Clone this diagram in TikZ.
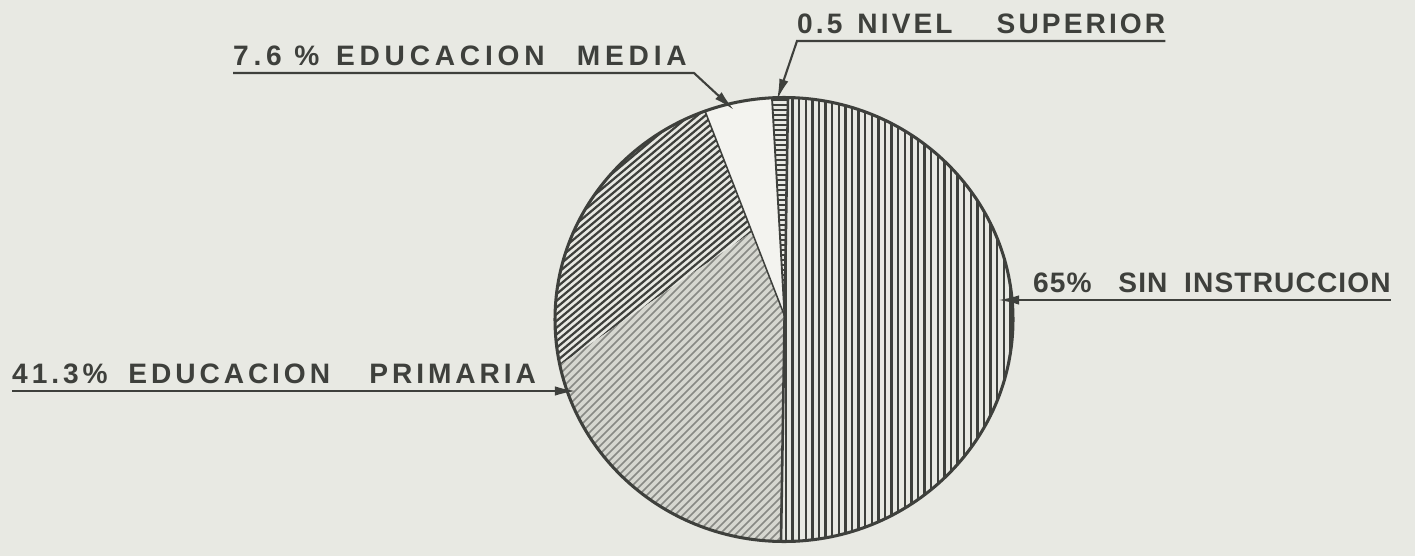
\documentclass[tikz,border=0pt]{standalone}
\usepackage{fontspec}
\usetikzlibrary{arrows.meta}

\newfontfamily\lblfont{Liberation Sans Bold}

\definecolor{papel}{RGB}{232,233,227}
\definecolor{tinta}{RGB}{62,64,60}
\definecolor{gris}{RGB}{135,137,132}
\definecolor{relleno}{RGB}{214,215,208}
\definecolor{blanco}{RGB}{243,243,239}

\begin{document}
\begin{tikzpicture}[x=0.03cm, y=-0.03cm,
    etiqueta/.style={font=\lblfont\fontsize{24}{28}\selectfont\addfontfeatures{LetterSpace=#1}, text=tinta,
      inner xsep=0pt, inner ysep=0.22cm, anchor=south west},
    etiqueta/.default=14,
    guia/.style={tinta, line width=1.8pt, -{Latex[length=18pt,width=8pt]}},
    raya/.style={tinta, line width=2.1pt},
    rayaclara/.style={gris, line width=1.4pt}]

    \fill[papel] (0,0) rectangle (1415,556);
    \useasboundingbox (0,0) rectangle (1415,556);

    % puntos de la torta
    \coordinate (centro) at (784.6,316);
    \coordinate (arriba) at (788.6,60);
    \coordinate (abajo) at (780.4,580);
    \coordinate (bordesup) at (769.7,60);
    \coordinate (bordemed) at (685.2,60);
    \coordinate (corte) at (752,232);
    \coordinate (corteb) at (464,431.5);
    \coordinate (pT) at (788,97.5);
    \coordinate (pB) at (781,541.5);
    \coordinate (pS) at (772,98);
    \coordinate (pM) at (705,111);

    % sin instruccion
    \begin{scope}
        \clip (784,319.5) ellipse [x radius=229, y radius=222];
        \clip (arriba) -- (1060,60) -- (1060,580) -- (abajo) -- cycle;
        \foreach \x in {786,792.6,...,1020} \draw[raya] (\x,90) -- (\x,550);
    \end{scope}

    % nivel superior
    \begin{scope}
        \clip (784,319.5) ellipse [x radius=229, y radius=222];
        \clip (centro) -- (bordesup) -- (arriba) -- cycle;
        \foreach \y in {100,105,...,320} \draw[raya, line width=1.5pt] (760,\y) -- (800,\y);
    \end{scope}

    % educacion media
    \begin{scope}
        \clip (784,319.5) ellipse [x radius=229, y radius=222];
        \fill[blanco] (centro) -- (bordemed) -- (bordesup) -- cycle;
    \end{scope}

    % educacion primaria, parte de arriba
    \begin{scope}
        \clip (784,319.5) ellipse [x radius=229, y radius=222];
        \clip (bordemed) -- (corte) -- (corteb) -- (470,60) -- cycle;
        \foreach \x in {-200,-192,...,500} \draw[raya, line width=1.9pt] (\x,600) -- ++(715,-600);
    \end{scope}

    % educacion primaria, parte de abajo
    \begin{scope}
        \clip (784,319.5) ellipse [x radius=229, y radius=222];
        \clip (corte) -- (centro) -- (abajo) -- (464,580) -- (corteb) -- cycle;
        \fill[relleno] (450,200) rectangle (800,580);
        \foreach \x in {150,158,...,780} \draw[rayaclara] (\x,600) -- ++(600,-600);
    \end{scope}

    \draw[tinta, line width=2.2pt] (pT) -- (centro) -- (pB);
    \draw[tinta, line width=1.6pt] (pS) -- (centro);
    \draw[tinta, line width=1.3pt] (pM) -- (centro);
    \draw[tinta, line width=2.6pt] (784,319.5) ellipse [x radius=229, y radius=222];

    % etiquetas
    \node[etiqueta] (primaria) at (12,391) {41.3\%\hspace{0.62cm}EDUCACION\hspace{1.18cm}PRIMARIA};
    \node[etiqueta=17] (media) at (233,73) {7.6 \%\hspace{0.5cm}EDUCACION\hspace{0.97cm}MEDIA};
    \node[etiqueta=11] (superior) at (797,41) {0.5\hspace{0.45cm}NIVEL\hspace{1.32cm}SUPERIOR};
    \node[etiqueta=4] (sininst) at (1033,300) {65\%\hspace{0.8cm}SIN\hspace{0.5cm}INSTRUCCION};

    \coordinate (aprim) at (576,391);
    \coordinate (cmed) at (694,73);
    \coordinate (amed) at (734,110);
    \coordinate (asup) at (777,100);
    \coordinate (asin) at (998,300);

    \draw[guia] (primaria.south west) -- (aprim);
    \draw[guia] (media.south west) -- (cmed) -- (amed);
    \draw[guia] (superior.south east) -- (superior.south west) -- (asup);
    \draw[guia] (sininst.south east) -- (asin);
\end{tikzpicture}
\end{document}
